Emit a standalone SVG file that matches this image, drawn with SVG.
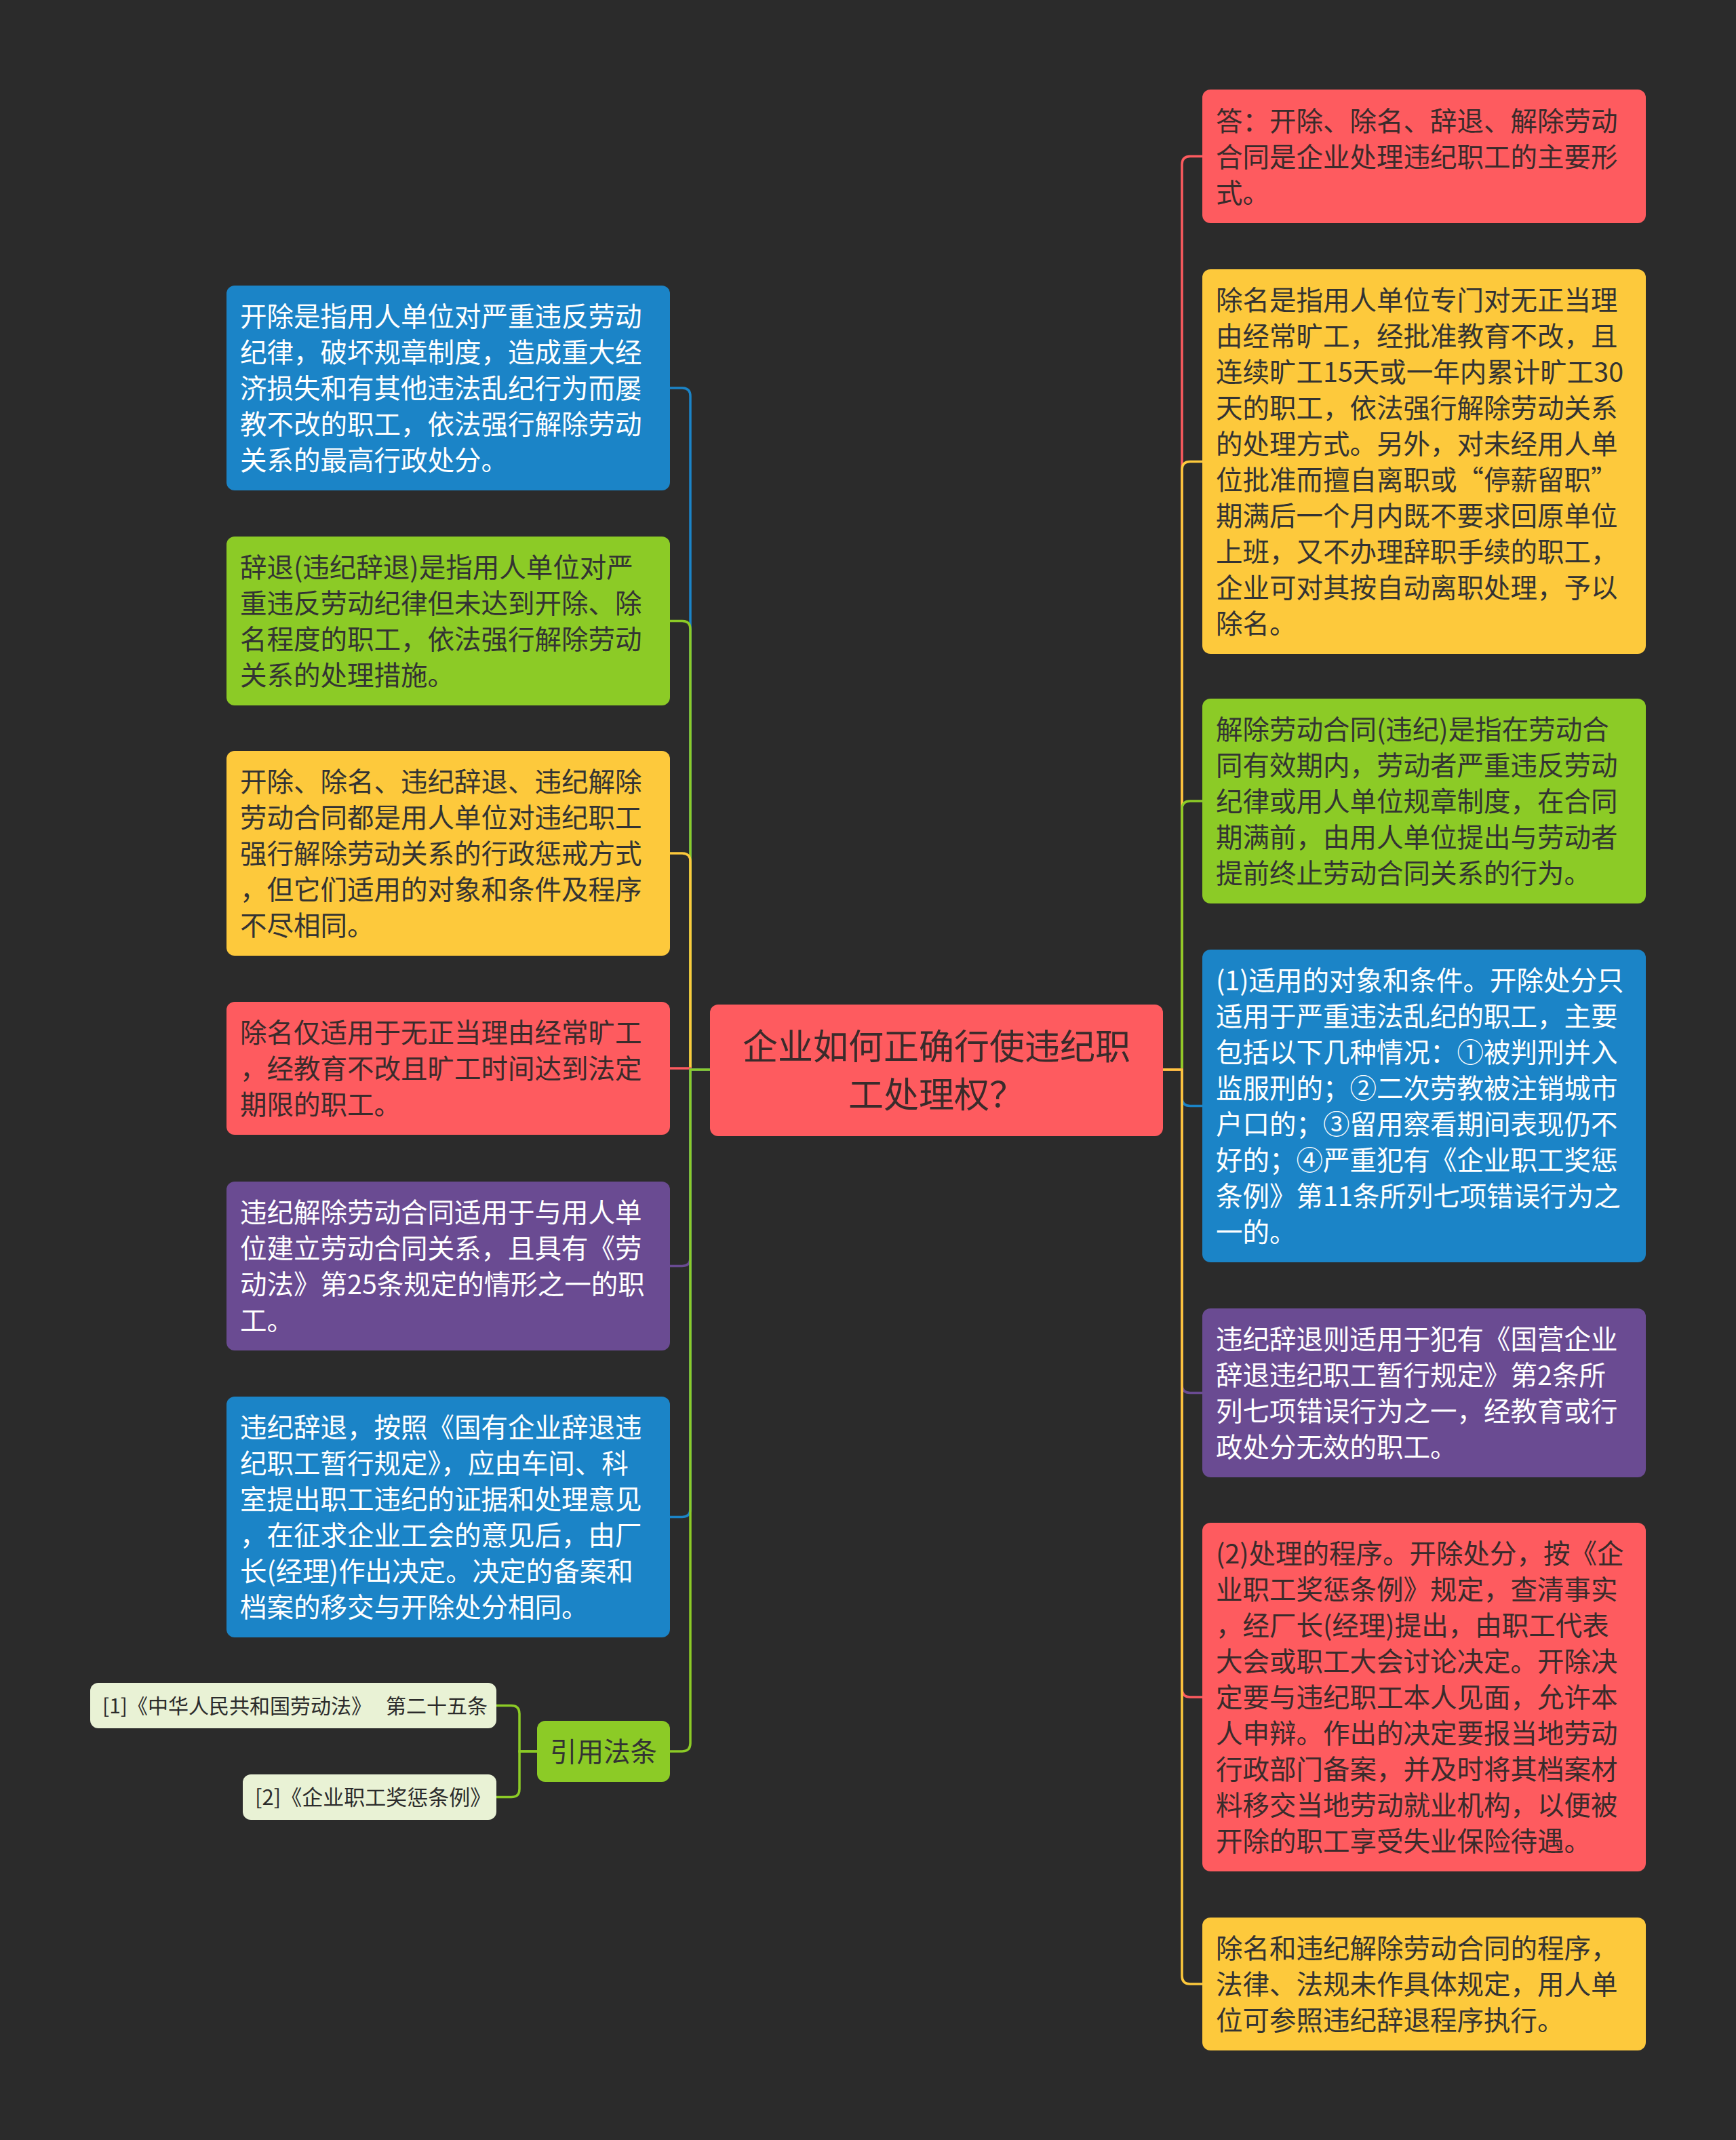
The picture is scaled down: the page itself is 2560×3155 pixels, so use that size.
<svg xmlns="http://www.w3.org/2000/svg" width="2560" height="3155" viewBox="0 0 2560 3155">
<style>
text{font-family:"Noto Sans CJK SC","Noto Sans",sans-serif;font-size:39.5px}
.dk{fill:#333333}
.wt{fill:#ffffff}
.rd{fill:#3a2b2b}
.c{fill:none;stroke-width:3.5}
.sm{font-size:31px;fill:#2b2b2b}
</style>
<rect x="0" y="0" width="2560" height="3155" fill="#2b2b2b"/>
<g id="connectors">
<path class="c" stroke="#1b84c7" d="M1047 1577 H1018 V584 Q1018 572 1006 572 H988"/>
<path class="c" stroke="#8ccb26" d="M1047 1577 H1018 V927.5 Q1018 915.5 1006 915.5 H988"/>
<path class="c" stroke="#fdc93c" d="M1047 1577 H1018 V1270 Q1018 1258 1006 1258 H988"/>
<path class="c" stroke="#fe5b5f" d="M1047 1577 H1018 V1575 H988"/>
<path class="c" stroke="#6a4b92" d="M1047 1577 H1018 V1854.5 Q1018 1866.5 1006 1866.5 H988"/>
<path class="c" stroke="#1b84c7" d="M1047 1577 H1018 V2224.5 Q1018 2236.5 1006 2236.5 H988"/>
<path class="c" stroke="#8ccb26" d="M1047 1577 H1018 V2570 Q1018 2582 1006 2582 H988"/>
<path class="c" stroke="#8ccb26" d="M792 2582 H766 V2526.5 Q766 2514.5 754 2514.5 H732"/>
<path class="c" stroke="#8ccb26" d="M792 2582 H766 V2637.5 Q766 2649.5 754 2649.5 H732"/>
<path class="c" stroke="#fe5b5f" d="M1715 1577 H1743 V242.5 Q1743 230.5 1755 230.5 H1773"/>
<path class="c" stroke="#fdc93c" d="M1715 1577 H1743 V692.5 Q1743 680.5 1755 680.5 H1773"/>
<path class="c" stroke="#8ccb26" d="M1715 1577 H1743 V1193 Q1743 1181 1755 1181 H1773"/>
<path class="c" stroke="#1b84c7" d="M1715 1577 H1743 V1618.5 Q1743 1630.5 1755 1630.5 H1773"/>
<path class="c" stroke="#6a4b92" d="M1715 1577 H1743 V2041.5 Q1743 2053.5 1755 2053.5 H1773"/>
<path class="c" stroke="#fe5b5f" d="M1715 1577 H1743 V2490 Q1743 2502 1755 2502 H1773"/>
<path class="c" stroke="#fdc93c" d="M1715 1577 H1743 V2913 Q1743 2925 1755 2925 H1773"/>
</g>
<g id="center">
<rect x="1047" y="1481" width="668" height="194" rx="12" fill="#fe5b5f"/>
<text class="rd" x="1381" text-anchor="middle" style="font-size:52px"><tspan x="1381" y="1562">企业如何正确行使违纪职</tspan><tspan x="1381" y="1633">工处理权？</tspan></text>
</g>
<g id="L1">
<rect x="334" y="421" width="654" height="302" rx="12" fill="#1b84c7"/>
<text class="wt"><tspan x="354" y="481">开除是指用人单位对严重违反劳动</tspan><tspan x="354" y="534">纪律，破坏规章制度，造成重大经</tspan><tspan x="354" y="587">济损失和有其他违法乱纪行为而屡</tspan><tspan x="354" y="640">教不改的职工，依法强行解除劳动</tspan><tspan x="354" y="693">关系的最高行政处分。</tspan></text>
</g>
<g id="L2">
<rect x="334" y="791" width="654" height="249" rx="12" fill="#8ccb26"/>
<text class="dk"><tspan x="354" y="851">辞退(违纪辞退)是指用人单位对严</tspan><tspan x="354" y="904">重违反劳动纪律但未达到开除、除</tspan><tspan x="354" y="957">名程度的职工，依法强行解除劳动</tspan><tspan x="354" y="1010">关系的处理措施。</tspan></text>
</g>
<g id="L3">
<rect x="334" y="1107" width="654" height="302" rx="12" fill="#fdc93c"/>
<text class="dk"><tspan x="354" y="1167">开除、除名、违纪辞退、违纪解除</tspan><tspan x="354" y="1220">劳动合同都是用人单位对违纪职工</tspan><tspan x="354" y="1273">强行解除劳动关系的行政惩戒方式</tspan><tspan x="354" y="1326">，但它们适用的对象和条件及程序</tspan><tspan x="354" y="1379">不尽相同。</tspan></text>
</g>
<g id="L4">
<rect x="334" y="1477" width="654" height="196" rx="12" fill="#fe5b5f"/>
<text class="rd"><tspan x="354" y="1537">除名仅适用于无正当理由经常旷工</tspan><tspan x="354" y="1590">，经教育不改且旷工时间达到法定</tspan><tspan x="354" y="1643">期限的职工。</tspan></text>
</g>
<g id="L5">
<rect x="334" y="1742" width="654" height="249" rx="12" fill="#6a4b92"/>
<text class="wt"><tspan x="354" y="1802">违纪解除劳动合同适用于与用人单</tspan><tspan x="354" y="1855">位建立劳动合同关系，且具有《劳</tspan><tspan x="354" y="1908">动法》第25条规定的情形之一的职</tspan><tspan x="354" y="1961">工。</tspan></text>
</g>
<g id="L6">
<rect x="334" y="2059" width="654" height="355" rx="12" fill="#1b84c7"/>
<text class="wt"><tspan x="354" y="2119">违纪辞退，按照《国有企业辞退违</tspan><tspan x="354" y="2172">纪职工暂行规定》，应由车间、科</tspan><tspan x="354" y="2225">室提出职工违纪的证据和处理意见</tspan><tspan x="354" y="2278">，在征求企业工会的意见后，由厂</tspan><tspan x="354" y="2331">长(经理)作出决定。决定的备案和</tspan><tspan x="354" y="2384">档案的移交与开除处分相同。</tspan></text>
</g>
<g id="L7">
<rect x="792" y="2537" width="196" height="90" rx="12" fill="#8ccb26"/>
<text class="dk" x="890" y="2597" text-anchor="middle">引用法条</text>
</g>
<g id="S1">
<rect x="133" y="2481" width="599" height="67" rx="12" fill="#e9f2d5"/>
<text class="sm" x="151" y="2526" style="font-size:30px">[1]《中华人民共和国劳动法》<tspan x="569">第二十五条</tspan></text>
</g>
<g id="S2">
<rect x="358" y="2616" width="374" height="67" rx="12" fill="#e9f2d5"/>
<text class="sm" x="376" y="2661">[2]《企业职工奖惩条例》</text>
</g>
<g id="R1">
<rect x="1773" y="132" width="654" height="197" rx="12" fill="#fe5b5f"/>
<text class="rd"><tspan x="1793" y="192.5">答：开除、除名、辞退、解除劳动</tspan><tspan x="1793" y="245.5">合同是企业处理违纪职工的主要形</tspan><tspan x="1793" y="298.5">式。</tspan></text>
</g>
<g id="R2">
<rect x="1773" y="397" width="654" height="567" rx="12" fill="#fdc93c"/>
<text class="dk"><tspan x="1793" y="457">除名是指用人单位专门对无正当理</tspan><tspan x="1793" y="510">由经常旷工，经批准教育不改，且</tspan><tspan x="1793" y="563">连续旷工15天或一年内累计旷工30</tspan><tspan x="1793" y="616">天的职工，依法强行解除劳动关系</tspan><tspan x="1793" y="669">的处理方式。另外，对未经用人单</tspan><tspan x="1793" y="722">位批准而擅自离职或“停薪留职”</tspan><tspan x="1793" y="775">期满后一个月内既不要求回原单位</tspan><tspan x="1793" y="828">上班，又不办理辞职手续的职工，</tspan><tspan x="1793" y="881">企业可对其按自动离职处理，予以</tspan><tspan x="1793" y="934">除名。</tspan></text>
</g>
<g id="R3">
<rect x="1773" y="1030" width="654" height="302" rx="12" fill="#8ccb26"/>
<text class="dk"><tspan x="1793" y="1090">解除劳动合同(违纪)是指在劳动合</tspan><tspan x="1793" y="1143">同有效期内，劳动者严重违反劳动</tspan><tspan x="1793" y="1196">纪律或用人单位规章制度，在合同</tspan><tspan x="1793" y="1249">期满前，由用人单位提出与劳动者</tspan><tspan x="1793" y="1302">提前终止劳动合同关系的行为。</tspan></text>
</g>
<g id="R4">
<rect x="1773" y="1400" width="654" height="461" rx="12" fill="#1b84c7"/>
<text class="wt"><tspan x="1793" y="1460">(1)适用的对象和条件。开除处分只</tspan><tspan x="1793" y="1513">适用于严重违法乱纪的职工，主要</tspan><tspan x="1793" y="1566">包括以下几种情况：①被判刑并入</tspan><tspan x="1793" y="1619">监服刑的；②二次劳教被注销城市</tspan><tspan x="1793" y="1672">户口的；③留用察看期间表现仍不</tspan><tspan x="1793" y="1725">好的；④严重犯有《企业职工奖惩</tspan><tspan x="1793" y="1778">条例》第11条所列七项错误行为之</tspan><tspan x="1793" y="1831">一的。</tspan></text>
</g>
<g id="R5">
<rect x="1773" y="1929" width="654" height="249" rx="12" fill="#6a4b92"/>
<text class="wt"><tspan x="1793" y="1989">违纪辞退则适用于犯有《国营企业</tspan><tspan x="1793" y="2042">辞退违纪职工暂行规定》第2条所</tspan><tspan x="1793" y="2095">列七项错误行为之一，经教育或行</tspan><tspan x="1793" y="2148">政处分无效的职工。</tspan></text>
</g>
<g id="R6">
<rect x="1773" y="2245" width="654" height="514" rx="12" fill="#fe5b5f"/>
<text class="rd"><tspan x="1793" y="2305">(2)处理的程序。开除处分，按《企</tspan><tspan x="1793" y="2358">业职工奖惩条例》规定，查清事实</tspan><tspan x="1793" y="2411">，经厂长(经理)提出，由职工代表</tspan><tspan x="1793" y="2464">大会或职工大会讨论决定。开除决</tspan><tspan x="1793" y="2517">定要与违纪职工本人见面，允许本</tspan><tspan x="1793" y="2570">人申辩。作出的决定要报当地劳动</tspan><tspan x="1793" y="2623">行政部门备案，并及时将其档案材</tspan><tspan x="1793" y="2676">料移交当地劳动就业机构，以便被</tspan><tspan x="1793" y="2729">开除的职工享受失业保险待遇。</tspan></text>
</g>
<g id="R7">
<rect x="1773" y="2827" width="654" height="196" rx="12" fill="#fdc93c"/>
<text class="dk"><tspan x="1793" y="2887">除名和违纪解除劳动合同的程序，</tspan><tspan x="1793" y="2940">法律、法规未作具体规定，用人单</tspan><tspan x="1793" y="2993">位可参照违纪辞退程序执行。</tspan></text>
</g>
</svg>
